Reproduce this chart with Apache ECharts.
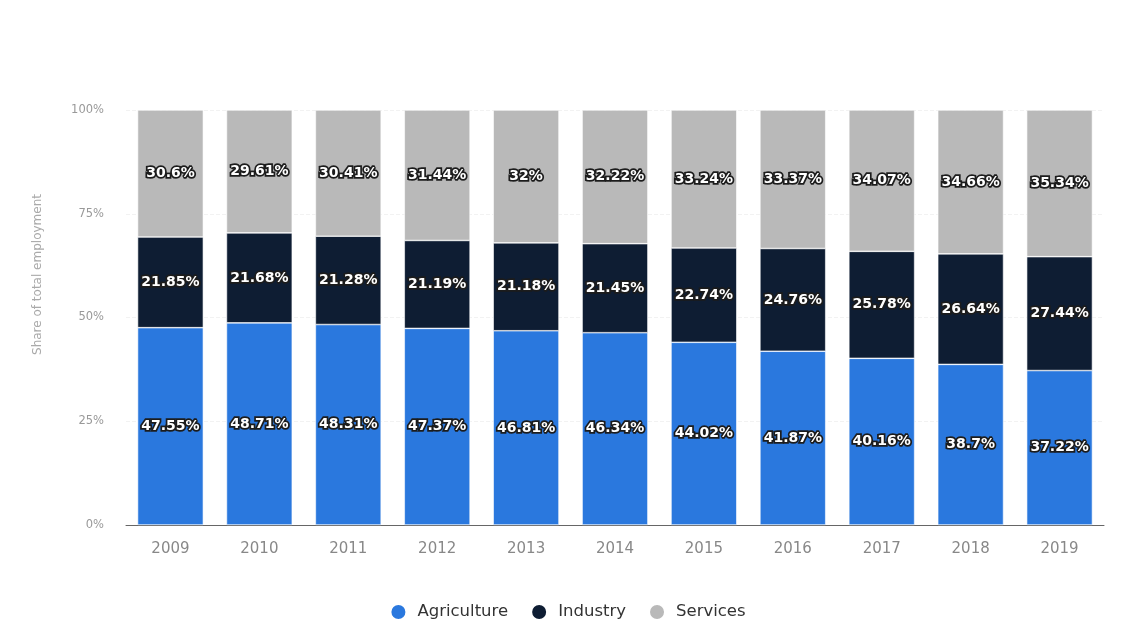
<!DOCTYPE html>
<html>
<head>
<meta charset="utf-8">
<script src="https://cdn.jsdelivr.net/npm/echarts@6/dist/echarts.min.js"></script>
<style>
  html, body { margin: 0; padding: 0; background: #ffffff; }
  #chart { width: 1135px; height: 627px; }
</style>
</head>
<body>
<div id="chart"></div>
<script>
// Share of total employment by sector, 2009-2019 (percent)
const years = ['2009', '2010', '2011', '2012', '2013', '2014', '2015', '2016', '2017', '2018', '2019'];
const agriculture = [47.55, 48.71, 48.31, 47.37, 46.81, 46.34, 44.02, 41.87, 40.16, 38.7, 37.22];
const industry = [21.85, 21.68, 21.28, 21.19, 21.18, 21.45, 22.74, 24.76, 25.78, 26.64, 27.44];
const services = [30.6, 29.61, 30.41, 31.44, 32, 32.22, 33.24, 33.37, 34.07, 34.66, 35.34];
const yTicks = ['0%', '25%', '50%', '75%', '100%'];

const FONT = '"DejaVu Sans", Verdana, sans-serif';

const labelStyle = {
  show: true,
  position: 'inside',
  formatter: p => p.value + '%',
  color: '#ffffff',
  fontFamily: FONT,
  fontWeight: 'bold',
  fontSize: 14,
  textBorderColor: '#1c1c1c',
  textBorderWidth: 3.5
};

function makeSeries(name, data, color) {
  return {
    name: name,
    type: 'bar',
    stack: 'total',
    data: data,
    barWidth: '74%',
    itemStyle: { color: color, borderColor: '#ffffff', borderWidth: 0.6 },
    label: labelStyle,
    emphasis: { disabled: true }
  };
}

const chart = echarts.init(document.getElementById('chart'));
chart.setOption({
  animation: false,
  backgroundColor: '#ffffff',
  grid: { left: 126, right: 31, top: 110, bottom: 102 },
  legend: {
    bottom: 1,
    left: 'center',
    icon: 'circle',
    itemWidth: 16,
    itemHeight: 16,
    itemGap: 22,
    textStyle: { color: '#333333', fontSize: 16.5, fontFamily: FONT, padding: [0, 0, 0, 6] },
    data: ['Agriculture', 'Industry', 'Services']
  },
  xAxis: {
    type: 'category',
    data: years,
    axisLine: { lineStyle: { color: '#666666', width: 1 } },
    axisTick: { show: false },
    axisLabel: { color: '#888888', fontSize: 15, margin: 17, fontFamily: FONT }
  },
  yAxis: {
    type: 'value',
    min: 0,
    max: 100,
    interval: 25,
    name: 'Share of total employment',
    nameLocation: 'middle',
    nameGap: 82,
    nameTextStyle: { color: '#aaaaaa', fontSize: 12, fontFamily: FONT, padding: [0, 0, 0, 86] },
    axisLine: { show: false },
    axisTick: { show: false },
    axisLabel: {
      color: '#999999',
      fontSize: 11.5,
      margin: 22,
      fontFamily: FONT,
      formatter: v => yTicks[v / 25]
    },
    splitLine: { lineStyle: { color: '#f2f2f2', type: 'dashed' } }
  },
  series: [
    makeSeries('Agriculture', agriculture, '#2a78de'),
    makeSeries('Industry', industry, '#0e1d33'),
    makeSeries('Services', services, '#b9b9b9')
  ]
});
</script>
</body>
</html>
